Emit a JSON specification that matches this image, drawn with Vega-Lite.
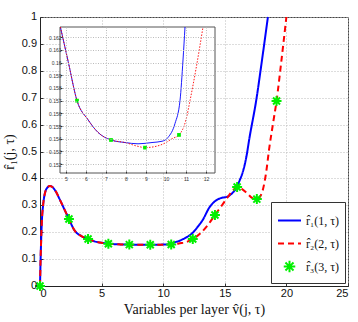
{
  "$schema": "https://vega.github.io/schema/vega-lite/v6.json",
  "width": 308,
  "height": 269,
  "autosize": {"type": "none"},
  "padding": {"left": 40, "top": 17, "right": 10, "bottom": 36},
  "background": "white",
  "config": {
    "view": {"stroke": "#444", "strokeWidth": 1},
    "axis": {
      "labelFont": "Liberation Sans",
      "labelFontSize": 11,
      "labelColor": "#111",
      "labelOverlap": false,
      "domainColor": "#222",
      "tickColor": "#333",
      "gridColor": "#bbb",
      "gridDash": [1, 2],
      "titleFont": "Liberation Serif",
      "titleFontSize": 14,
      "titleFontWeight": "normal",
      "titleColor": "#111"
    },
    "legend": {
      "orient": "bottom-right",
      "offset": 3,
      "padding": 6,
      "fillColor": "white",
      "strokeColor": "#333",
      "labelFont": "Liberation Serif",
      "labelFontSize": 12,
      "labelColor": "#111",
      "symbolSize": 529,
      "symbolStrokeWidth": 2,
      "rowPadding": 4,
      "labelOffset": 4,
      "labelLimit": 200
    }
  },
  "datasets": {
    "curves": [
      {"series": "r̂₁(1, τ)", "x": 0, "y": 0},
      {"series": "r̂₁(1, τ)", "x": 0.05, "y": 0.1},
      {"series": "r̂₁(1, τ)", "x": 0.1, "y": 0.18},
      {"series": "r̂₁(1, τ)", "x": 0.15, "y": 0.24},
      {"series": "r̂₁(1, τ)", "x": 0.25, "y": 0.3},
      {"series": "r̂₁(1, τ)", "x": 0.4, "y": 0.345},
      {"series": "r̂₁(1, τ)", "x": 0.6, "y": 0.366},
      {"series": "r̂₁(1, τ)", "x": 0.8, "y": 0.372},
      {"series": "r̂₁(1, τ)", "x": 1.0, "y": 0.368},
      {"series": "r̂₁(1, τ)", "x": 1.3, "y": 0.35},
      {"series": "r̂₁(1, τ)", "x": 1.6, "y": 0.322},
      {"series": "r̂₁(1, τ)", "x": 2.0, "y": 0.283},
      {"series": "r̂₁(1, τ)", "x": 2.35, "y": 0.249},
      {"series": "r̂₁(1, τ)", "x": 2.8, "y": 0.207},
      {"series": "r̂₁(1, τ)", "x": 3.3, "y": 0.187},
      {"series": "r̂₁(1, τ)", "x": 3.9, "y": 0.175},
      {"series": "r̂₁(1, τ)", "x": 4.5, "y": 0.165},
      {"series": "r̂₁(1, τ)", "x": 4.72, "y": 0.1628},
      {"series": "r̂₁(1, τ)", "x": 5.12, "y": 0.16},
      {"series": "r̂₁(1, τ)", "x": 5.55, "y": 0.157},
      {"series": "r̂₁(1, τ)", "x": 6.1, "y": 0.1555},
      {"series": "r̂₁(1, τ)", "x": 6.6, "y": 0.1545},
      {"series": "r̂₁(1, τ)", "x": 7.25, "y": 0.1539},
      {"series": "r̂₁(1, τ)", "x": 7.95, "y": 0.1537},
      {"series": "r̂₁(1, τ)", "x": 8.6, "y": 0.1536},
      {"series": "r̂₁(1, τ)", "x": 9.3, "y": 0.1537},
      {"series": "r̂₁(1, τ)", "x": 9.8, "y": 0.1538},
      {"series": "r̂₁(1, τ)", "x": 10.1, "y": 0.1541},
      {"series": "r̂₁(1, τ)", "x": 10.45, "y": 0.1552},
      {"series": "r̂₁(1, τ)", "x": 10.7, "y": 0.157},
      {"series": "r̂₁(1, τ)", "x": 10.85, "y": 0.1602},
      {"series": "r̂₁(1, τ)", "x": 10.95, "y": 0.1628},
      {"series": "r̂₁(1, τ)", "x": 11.2, "y": 0.166},
      {"series": "r̂₁(1, τ)", "x": 11.6, "y": 0.174},
      {"series": "r̂₁(1, τ)", "x": 12.0, "y": 0.184},
      {"series": "r̂₁(1, τ)", "x": 12.4, "y": 0.198},
      {"series": "r̂₁(1, τ)", "x": 12.8, "y": 0.22},
      {"series": "r̂₁(1, τ)", "x": 13.2, "y": 0.245},
      {"series": "r̂₁(1, τ)", "x": 13.75, "y": 0.292},
      {"series": "r̂₁(1, τ)", "x": 14.2, "y": 0.315},
      {"series": "r̂₁(1, τ)", "x": 14.7, "y": 0.327},
      {"series": "r̂₁(1, τ)", "x": 15.2, "y": 0.332},
      {"series": "r̂₁(1, τ)", "x": 15.6, "y": 0.345},
      {"series": "r̂₁(1, τ)", "x": 15.9, "y": 0.362},
      {"series": "r̂₁(1, τ)", "x": 16.2, "y": 0.392},
      {"series": "r̂₁(1, τ)", "x": 16.5, "y": 0.43},
      {"series": "r̂₁(1, τ)", "x": 16.75, "y": 0.48},
      {"series": "r̂₁(1, τ)", "x": 17.0, "y": 0.55},
      {"series": "r̂₁(1, τ)", "x": 17.55, "y": 0.69},
      {"series": "r̂₁(1, τ)", "x": 18.05, "y": 0.85},
      {"series": "r̂₁(1, τ)", "x": 18.5, "y": 1.0},
      {"series": "r̂₂(2, τ)", "x": 0, "y": 0},
      {"series": "r̂₂(2, τ)", "x": 0.05, "y": 0.1},
      {"series": "r̂₂(2, τ)", "x": 0.1, "y": 0.18},
      {"series": "r̂₂(2, τ)", "x": 0.15, "y": 0.24},
      {"series": "r̂₂(2, τ)", "x": 0.25, "y": 0.3},
      {"series": "r̂₂(2, τ)", "x": 0.4, "y": 0.345},
      {"series": "r̂₂(2, τ)", "x": 0.6, "y": 0.366},
      {"series": "r̂₂(2, τ)", "x": 0.8, "y": 0.372},
      {"series": "r̂₂(2, τ)", "x": 1.0, "y": 0.368},
      {"series": "r̂₂(2, τ)", "x": 1.3, "y": 0.35},
      {"series": "r̂₂(2, τ)", "x": 1.6, "y": 0.322},
      {"series": "r̂₂(2, τ)", "x": 2.0, "y": 0.283},
      {"series": "r̂₂(2, τ)", "x": 2.35, "y": 0.249},
      {"series": "r̂₂(2, τ)", "x": 2.8, "y": 0.207},
      {"series": "r̂₂(2, τ)", "x": 3.3, "y": 0.187},
      {"series": "r̂₂(2, τ)", "x": 3.9, "y": 0.175},
      {"series": "r̂₂(2, τ)", "x": 4.5, "y": 0.165},
      {"series": "r̂₂(2, τ)", "x": 4.72, "y": 0.1628},
      {"series": "r̂₂(2, τ)", "x": 5.12, "y": 0.16},
      {"series": "r̂₂(2, τ)", "x": 5.55, "y": 0.157},
      {"series": "r̂₂(2, τ)", "x": 6.1, "y": 0.1555},
      {"series": "r̂₂(2, τ)", "x": 6.6, "y": 0.1545},
      {"series": "r̂₂(2, τ)", "x": 7.25, "y": 0.1539},
      {"series": "r̂₂(2, τ)", "x": 7.95, "y": 0.1537},
      {"series": "r̂₂(2, τ)", "x": 8.6, "y": 0.1534},
      {"series": "r̂₂(2, τ)", "x": 8.95, "y": 0.1533},
      {"series": "r̂₂(2, τ)", "x": 9.5, "y": 0.1534},
      {"series": "r̂₂(2, τ)", "x": 10.0, "y": 0.1537},
      {"series": "r̂₂(2, τ)", "x": 10.3, "y": 0.154},
      {"series": "r̂₂(2, τ)", "x": 10.65, "y": 0.1543},
      {"series": "r̂₂(2, τ)", "x": 11.0, "y": 0.1555},
      {"series": "r̂₂(2, τ)", "x": 11.2, "y": 0.157},
      {"series": "r̂₂(2, τ)", "x": 11.5, "y": 0.1595},
      {"series": "r̂₂(2, τ)", "x": 11.85, "y": 0.1628},
      {"series": "r̂₂(2, τ)", "x": 12.1, "y": 0.168},
      {"series": "r̂₂(2, τ)", "x": 12.4, "y": 0.175},
      {"series": "r̂₂(2, τ)", "x": 13.0, "y": 0.195},
      {"series": "r̂₂(2, τ)", "x": 13.6, "y": 0.225},
      {"series": "r̂₂(2, τ)", "x": 14.2, "y": 0.264},
      {"series": "r̂₂(2, τ)", "x": 14.8, "y": 0.302},
      {"series": "r̂₂(2, τ)", "x": 15.2, "y": 0.328},
      {"series": "r̂₂(2, τ)", "x": 15.6, "y": 0.352},
      {"series": "r̂₂(2, τ)", "x": 16.0, "y": 0.368},
      {"series": "r̂₂(2, τ)", "x": 16.4, "y": 0.36},
      {"series": "r̂₂(2, τ)", "x": 16.8, "y": 0.345},
      {"series": "r̂₂(2, τ)", "x": 17.2, "y": 0.328},
      {"series": "r̂₂(2, τ)", "x": 17.6, "y": 0.323},
      {"series": "r̂₂(2, τ)", "x": 17.9, "y": 0.335},
      {"series": "r̂₂(2, τ)", "x": 18.1, "y": 0.36},
      {"series": "r̂₂(2, τ)", "x": 18.35, "y": 0.42},
      {"series": "r̂₂(2, τ)", "x": 18.6, "y": 0.51},
      {"series": "r̂₂(2, τ)", "x": 18.9, "y": 0.6},
      {"series": "r̂₂(2, τ)", "x": 19.2, "y": 0.688},
      {"series": "r̂₂(2, τ)", "x": 19.6, "y": 0.84},
      {"series": "r̂₂(2, τ)", "x": 20.0, "y": 1.0}
    ],
    "stars": [
      {"series": "r̂₃(3, τ)", "x": 0, "y": 0},
      {"series": "r̂₃(3, τ)", "x": 2.35, "y": 0.249},
      {"series": "r̂₃(3, τ)", "x": 3.9, "y": 0.175},
      {"series": "r̂₃(3, τ)", "x": 5.55, "y": 0.157},
      {"series": "r̂₃(3, τ)", "x": 7.25, "y": 0.1539},
      {"series": "r̂₃(3, τ)", "x": 8.95, "y": 0.1533},
      {"series": "r̂₃(3, τ)", "x": 10.65, "y": 0.1543},
      {"series": "r̂₃(3, τ)", "x": 12.4, "y": 0.175},
      {"series": "r̂₃(3, τ)", "x": 14.2, "y": 0.264},
      {"series": "r̂₃(3, τ)", "x": 16.0, "y": 0.368},
      {"series": "r̂₃(3, τ)", "x": 17.6, "y": 0.323},
      {"series": "r̂₃(3, τ)", "x": 19.2, "y": 0.688}
    ],
    "yLabels": [
      {"v": 0}, {"v": 0.1}, {"v": 0.2}, {"v": 0.3}, {"v": 0.4}, {"v": 0.5},
      {"v": 0.6}, {"v": 0.7}, {"v": 0.8}, {"v": 0.9}, {"v": 1}
    ]
  },
  "layer": [
    {
      "layer": [
        {
          "data": {"name": "curves"},
          "mark": {"type": "line", "strokeWidth": 2, "interpolate": "monotone"},
          "encoding": {
            "x": {
              "field": "x", "type": "quantitative",
              "scale": {"domain": [0, 25], "nice": false, "zero": false},
              "axis": {
                "values": [0, 5, 10, 15, 20, 25],
                "tickCount": 6,
                "format": "~g",
                "grid": true,
                "labelOverlap": false,
                "tickSize": -3,
                "labelPadding": 4,
                "title": "Variables per layer v̂(j, τ)",
                "titlePadding": 4
              }
            },
            "y": {
              "field": "y", "type": "quantitative",
              "scale": {"domain": [0, 1], "nice": false, "zero": false},
              "axis": {
                "values": [0, 0.1, 0.2, 0.3, 0.4, 0.5, 0.6, 0.7, 0.8, 0.9, 1],
                "tickCount": 11,
                "grid": true,
                "labels": false,
                "tickSize": -3,
                "title": "r̂₁(j, τ)",
                "titlePadding": 23
              }
            },
            "color": {
              "field": "series", "type": "nominal",
              "scale": {"domain": ["r̂₁(1, τ)", "r̂₂(2, τ)", "r̂₃(3, τ)"], "range": ["#0000ff", "#ff0000", "#00f000"]},
              "legend": {"title": null}
            },
            "strokeDash": {
              "field": "series", "type": "nominal",
              "scale": {"domain": ["r̂₁(1, τ)", "r̂₂(2, τ)", "r̂₃(3, τ)"], "range": [[1, 0], [6, 4], [1, 0]]},
              "legend": {"title": null}
            }
          }
        },
        {
          "data": {"name": "stars"},
          "mark": {"type": "point", "filled": false, "strokeWidth": 2, "size": 400, "opacity": 1},
          "encoding": {
            "x": {"field": "x", "type": "quantitative"},
            "y": {"field": "y", "type": "quantitative"},
            "color": {"field": "series", "type": "nominal", "legend": {"title": null}},
            "shape": {
              "field": "series", "type": "nominal",
              "scale": {"domain": ["r̂₁(1, τ)", "r̂₂(2, τ)", "r̂₃(3, τ)"], "range": ["stroke", "stroke", "M-0.5,0L0.5,0M0,-0.5L0,0.5M-0.35,-0.35L0.35,0.35M-0.35,0.35L0.35,-0.35"]},
              "legend": {"title": null}
            }
          }
        },
        {
          "data": {"name": "yLabels"},
          "mark": {"type": "text", "align": "right", "baseline": "middle", "dx": -3, "fontSize": 11, "font": "Liberation Sans", "color": "#111"},
          "encoding": {
            "x": {"datum": 0, "type": "quantitative"},
            "y": {"field": "v", "type": "quantitative"},
            "text": {"field": "v", "type": "quantitative", "format": "~g"}
          }
        }
      ]
    },
    {
      "layer": [
        {
          "data": {"values": [{}]},
          "mark": {"type": "rect", "fill": "white", "stroke": "#555", "strokeWidth": 1},
          "encoding": {
            "x": {
              "datum": 4.7, "type": "quantitative",
              "scale": {"domain": [4.7, 12.45], "range": [20, 175], "nice": false, "zero": false},
              "axis": {
                "orient": "top", "offset": -156,
                "values": [5, 6, 7, 8, 9, 10, 11, 12],
                "tickCount": 8,
                "format": "~g",
                "grid": true, "gridDash": [1, 1.5], "gridColor": "#bbb",
                "domain": false, "tickSize": 2, "labelPadding": -5,
                "labelBaseline": "top",
                "labelFontSize": 5, "labelColor": "#333",
                "title": null, "zindex": 1
              }
            },
            "x2": {"datum": 12.45},
            "y": {
              "datum": 0.1513, "type": "quantitative",
              "scale": {"domain": [0.1513, 0.1628], "range": [156, 10], "nice": false, "zero": false},
              "axis": {
                "orient": "left", "offset": -20,
                "values": [0.152, 0.153, 0.154, 0.155, 0.156, 0.157, 0.158, 0.159, 0.16, 0.161, 0.162],
                "tickCount": 11,
                "format": ".3~r",
                "grid": true, "gridDash": [1, 1.5], "gridColor": "#bbb",
                "domain": false, "tickSize": -2, "labelPadding": 1,
                "labelFontSize": 5, "labelColor": "#333",
                "title": null, "zindex": 1
              }
            },
            "y2": {"datum": 0.1628}
          }
        },
        {
          "data": {"name": "curves"},
          "transform": [{"filter": "datum.series === 'r̂₁(1, τ)' && datum.x >= 4.7 && datum.x <= 12.45 && datum.y <= 0.1628"}],
          "mark": {"type": "line", "color": "#0000ff", "strokeWidth": 0.9, "interpolate": "monotone"},
          "encoding": {
            "x": {"field": "x", "type": "quantitative"},
            "y": {"field": "y", "type": "quantitative"}
          }
        },
        {
          "data": {"name": "curves"},
          "transform": [{"filter": "datum.series === 'r̂₂(2, τ)' && datum.x >= 4.7 && datum.x <= 12.45 && datum.y <= 0.1628"}],
          "mark": {"type": "line", "color": "#ff0000", "strokeWidth": 0.9, "strokeDash": [1.5, 1.5], "interpolate": "monotone"},
          "encoding": {
            "x": {"field": "x", "type": "quantitative"},
            "y": {"field": "y", "type": "quantitative"}
          }
        },
        {
          "data": {"name": "stars"},
          "transform": [{"filter": "datum.x >= 4.7 && datum.x <= 12.45 && datum.y <= 0.1628"}],
          "mark": {"type": "point", "shape": "square", "filled": true, "color": "#00f000", "size": 14, "opacity": 1},
          "encoding": {
            "x": {"field": "x", "type": "quantitative"},
            "y": {"field": "y", "type": "quantitative"}
          }
        }
      ]
    }
  ],
  "resolve": {"scale": {"x": "independent", "y": "independent"}}
}
